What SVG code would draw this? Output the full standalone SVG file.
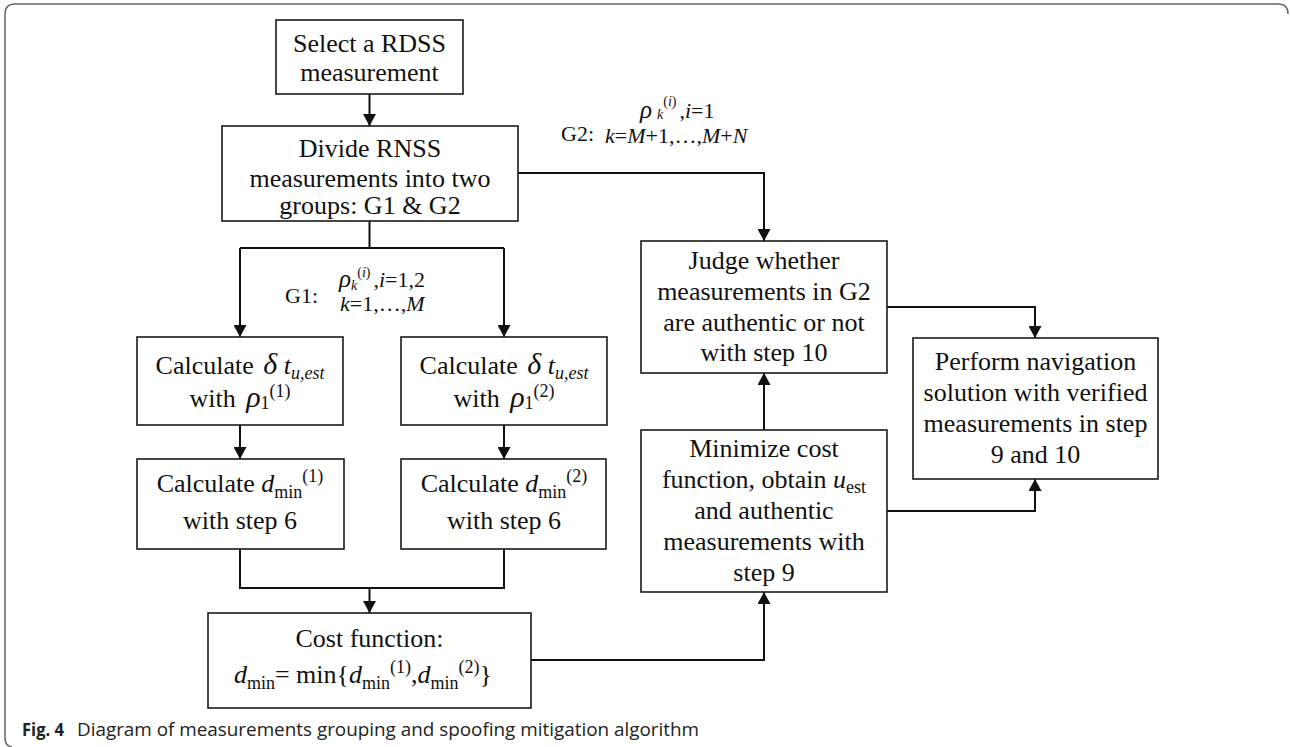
<svg xmlns="http://www.w3.org/2000/svg" width="1290" height="747" viewBox="0 0 1290 747">
<defs>
<style>
.box{fill:#fff;stroke:#1a1a1a;stroke-width:1.6}
.t{font-family:"Liberation Serif","Times New Roman",serif;font-size:26px;fill:#111;text-anchor:middle}
.lbl{font-family:"Liberation Serif","Times New Roman",serif;font-size:22px;fill:#111}
.it{font-style:italic}
.s{font-size:18px}
.ls{font-size:14px}
.conn path{fill:none;stroke:#111;stroke-width:2}
.cap{font-family:"Open Sans","Noto Sans",sans-serif;font-size:18px;fill:#222}
</style>
<marker id="ah" markerUnits="userSpaceOnUse" markerWidth="12" markerHeight="13" refX="12" refY="6.5" orient="auto">
<path d="M0,0 L12,6.5 L0,13 z" fill="#111"/>
</marker>
</defs>
<rect width="1290" height="747" fill="#fff"/>
<path d="M12,747 Q5,746 5,738 L5,14 Q5,4 15,4 L1278,4 Q1288,4 1288,14" fill="none" stroke="#666" stroke-width="1.5"/>

<g id="connectors" class="conn">
<path d="M369.5,94 L369.5,126" marker-end="url(#ah)"/>
<path d="M518,173 L764,173 L764,241" marker-end="url(#ah)"/>
<path d="M369.5,221 L369.5,248"/>
<path d="M240,248 L504,248"/>
<path d="M240,248 L240,337" marker-end="url(#ah)"/>
<path d="M504,248 L504,337" marker-end="url(#ah)"/>
<path d="M240,425 L240,459" marker-end="url(#ah)"/>
<path d="M504,425 L504,459" marker-end="url(#ah)"/>
<path d="M240,549 L240,588 L504,588 L504,549"/>
<path d="M369.5,588 L369.5,613" marker-end="url(#ah)"/>
<path d="M531,660 L764,660 L764,592" marker-end="url(#ah)"/>
<path d="M764,430 L764,373" marker-end="url(#ah)"/>
<path d="M887,307 L1035,307 L1035,338" marker-end="url(#ah)"/>
<path d="M887,511 L1035,511 L1035,479" marker-end="url(#ah)"/>
</g>

<g id="n1">
<rect class="box" x="276" y="20" width="187" height="74"/>
<text class="t" x="369.5" y="52">Select a RDSS</text>
<text class="t" x="369.5" y="81">measurement</text>
</g>

<g id="n2">
<rect class="box" x="222" y="126" width="296" height="95"/>
<text class="t" x="370" y="157">Divide RNSS</text>
<text class="t" x="370" y="187">measurements into two</text>
<text class="t" x="370" y="214">groups: G1 &amp; G2</text>
</g>

<g id="lbl-g2">
<text class="lbl" x="561" y="141">G2:</text>
<text class="lbl" x="640" y="118"><tspan class="it" font-size="25">ρ</tspan><tspan class="it ls" dx="5" dy="1">k</tspan><tspan class="ls" dy="-13">(<tspan class="it">i</tspan>)</tspan><tspan dy="12" dx="3">,<tspan class="it">i</tspan>=1</tspan></text>
<text class="lbl" x="605" y="143"><tspan class="it">k</tspan>=<tspan class="it">M</tspan>+1,…,<tspan class="it">M</tspan>+<tspan class="it">N</tspan></text>
</g>

<g id="lbl-g1">
<text class="lbl" x="285" y="303">G1:</text>
<text class="lbl" x="339" y="287"><tspan class="it" font-size="25">ρ</tspan><tspan class="it ls" dy="3">k</tspan><tspan class="ls" dy="-13">(<tspan class="it">i</tspan>)</tspan><tspan dy="10" dx="3">,<tspan class="it">i</tspan>=1,2</tspan></text>
<text class="lbl" x="340" y="311"><tspan class="it">k</tspan>=1,…,<tspan class="it">M</tspan></text>
</g>

<g id="n3">
<rect class="box" x="137" y="337" width="206" height="88"/>
<text class="t" x="240" y="374">Calculate <tspan class="it" font-size="30" dx="3">δ</tspan> <tspan class="it">t</tspan><tspan class="it s" dy="5">u,est</tspan></text>
<text class="t" x="240" y="407">with <tspan class="it" font-size="30" dx="4">ρ</tspan><tspan class="s" dy="2">1</tspan><tspan class="s" dy="-12">(1)</tspan></text>
</g>

<g id="n4">
<rect class="box" x="401" y="337" width="206" height="88"/>
<text class="t" x="504" y="374">Calculate <tspan class="it" font-size="30" dx="3">δ</tspan> <tspan class="it">t</tspan><tspan class="it s" dy="5">u,est</tspan></text>
<text class="t" x="504" y="407">with <tspan class="it" font-size="30" dx="4">ρ</tspan><tspan class="s" dy="2">1</tspan><tspan class="s" dy="-12">(2)</tspan></text>
</g>

<g id="n5">
<rect class="box" x="137" y="459" width="207" height="90"/>
<text class="t" x="240" y="492">Calculate <tspan class="it">d</tspan><tspan class="s" dy="6">min</tspan><tspan class="s" dy="-16">(1)</tspan></text>
<text class="t" x="240" y="529">with step 6</text>
</g>

<g id="n6">
<rect class="box" x="401" y="459" width="205" height="90"/>
<text class="t" x="504" y="492">Calculate <tspan class="it">d</tspan><tspan class="s" dy="6">min</tspan><tspan class="s" dy="-16">(2)</tspan></text>
<text class="t" x="504" y="529">with step 6</text>
</g>

<g id="n7">
<rect class="box" x="208" y="613" width="323" height="95"/>
<text class="t" x="369.5" y="647">Cost function:</text>
<text class="t" x="363" y="683"><tspan class="it">d</tspan><tspan class="s" dy="6">min</tspan><tspan dy="-6">= min{</tspan><tspan class="it">d</tspan><tspan class="s" dy="6">min</tspan><tspan class="s" dy="-16">(1)</tspan><tspan dy="10">,</tspan><tspan class="it">d</tspan><tspan class="s" dy="6">min</tspan><tspan class="s" dy="-16">(2)</tspan><tspan dy="10">}</tspan></text>
</g>

<g id="n8">
<rect class="box" x="641" y="241" width="246" height="132"/>
<text class="t" x="764" y="269">Judge whether</text>
<text class="t" x="764" y="300">measurements in G2</text>
<text class="t" x="764" y="331">are authentic or not</text>
<text class="t" x="764" y="361">with step 10</text>
</g>

<g id="n9">
<rect class="box" x="641" y="430" width="246" height="162"/>
<text class="t" x="764" y="457">Minimize cost</text>
<text class="t" x="764" y="488">function, obtain <tspan class="it">u</tspan><tspan class="s" dy="5">est</tspan></text>
<text class="t" x="764" y="519">and authentic</text>
<text class="t" x="764" y="550">measurements with</text>
<text class="t" x="764" y="581">step 9</text>
</g>

<g id="n10">
<rect class="box" x="913" y="338" width="245" height="141"/>
<text class="t" x="1035.5" y="370">Perform navigation</text>
<text class="t" x="1035.5" y="401">solution with verified</text>
<text class="t" x="1035.5" y="432">measurements in step</text>
<text class="t" x="1035.5" y="463">9 and 10</text>
</g>

<g id="caption">
<text class="cap" x="22" y="736"><tspan font-weight="bold" textLength="42" lengthAdjust="spacingAndGlyphs">Fig. 4</tspan></text>
<text class="cap" x="77" y="736" textLength="622" lengthAdjust="spacingAndGlyphs">Diagram of measurements grouping and spoofing mitigation algorithm</text>
</g>
</svg>
